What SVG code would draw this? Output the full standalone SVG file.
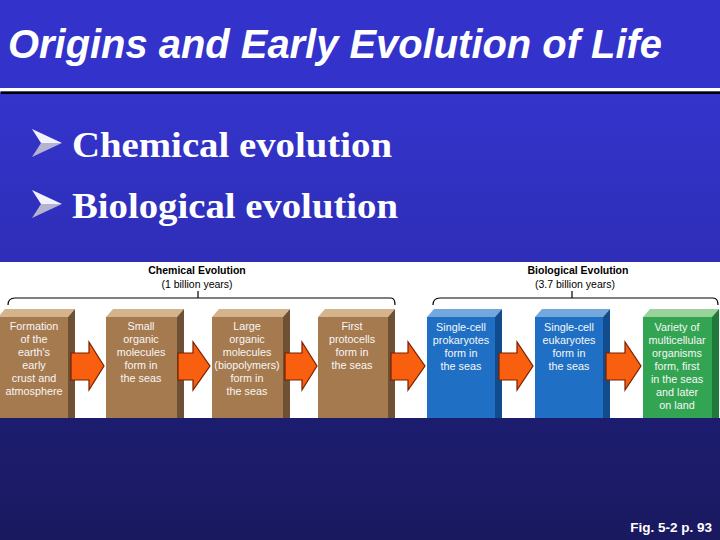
<svg xmlns="http://www.w3.org/2000/svg" width="720" height="540" viewBox="0 0 720 540">
<defs>
<linearGradient id="bg" x1="0" y1="94" x2="0" y2="540" gradientUnits="userSpaceOnUse">
<stop offset="0" stop-color="#3434cc"/>
<stop offset="0.37" stop-color="#2e2eb8"/>
<stop offset="0.72" stop-color="#1d1d70"/>
<stop offset="1" stop-color="#191960"/>
</linearGradient>
<style>
.title{font-family:"Liberation Sans",Arial,sans-serif;font-weight:bold;font-style:italic;font-size:41px;fill:#ffffff}
.bul{font-family:"Liberation Serif","Times New Roman",serif;font-weight:bold;font-size:35px;fill:#ffffff}
.hd{font-family:"Liberation Sans",Arial,sans-serif;font-weight:bold;font-size:10.5px;fill:#000;text-anchor:middle}
.sub{font-family:"Liberation Sans",Arial,sans-serif;font-size:10.5px;fill:#000;text-anchor:middle}
.bx{font-family:"Liberation Sans",Arial,sans-serif;font-size:10.8px;fill:#f6f6f6;text-anchor:middle}
.fig{font-family:"Liberation Sans",Arial,sans-serif;font-weight:bold;font-size:13.5px;fill:#ffffff;text-anchor:end}
.bf{fill:#a67a4f}.bt{fill:#d4b48c}.bs{fill:#6e5034}
.uf{fill:#1f70c4}.ut{fill:#74a8dc}.us{fill:#124c8c}
.gf{fill:#33a552}.gt{fill:#9ad29c}.gs{fill:#1f7a3a}
.arr{fill:#f8600f;stroke:#7a1e00;stroke-width:1.2;stroke-linejoin:miter}
.brk{fill:none;stroke:#000;stroke-width:1.2}
</style>
</defs>
<rect x="0" y="0" width="720" height="540" fill="url(#bg)"/>
<rect x="0" y="0" width="720" height="88" fill="#3333cc"/>
<rect x="0" y="88" width="720" height="3.5" fill="#ffffff"/>
<rect x="1" y="91.5" width="719" height="2.5" fill="#000000"/>
<text class="title" x="8" y="58" textLength="654" lengthAdjust="spacingAndGlyphs">Origins and Early Evolution of Life</text>

<g id="bullet1">
<polygon points="32,129 62,143 41,143" fill="#f2f2ff"/>
<polygon points="41,143 62,143 32,157" fill="#b4b4d2"/>
<text class="bul" x="72" y="157" textLength="320" lengthAdjust="spacingAndGlyphs">Chemical evolution</text>
</g>
<g id="bullet2">
<polygon points="32,190 62,204 41,204" fill="#f2f2ff"/>
<polygon points="41,204 62,204 32,218" fill="#b4b4d2"/>
<text class="bul" x="72" y="218" textLength="326" lengthAdjust="spacingAndGlyphs">Biological evolution</text>
</g>

<rect x="0" y="262" width="720" height="156" fill="#ffffff"/>

<g id="labels">
<text class="hd" x="197" y="274">Chemical Evolution</text>
<text class="sub" x="197" y="288">(1 billion years)</text>
<text class="hd" x="578" y="274">Biological Evolution</text>
<text class="sub" x="575" y="288">(3.7 billion years)</text>
</g>

<g id="connectors">
<path class="brk" d="M8,305 Q8,298 15,298 L391,298 Q395,298 395,305"/>
<line class="brk" x1="198" y1="291" x2="198" y2="298"/>
<path class="brk" d="M433,305 Q433,298 440,298 L713,298 Q718,298 718,305"/>
<line class="brk" x1="572" y1="291" x2="572" y2="298"/>
</g>

<g id="box1">
<polygon class="bt" points="-2,317 68,317 75,309 5,309"/>
<polygon class="bs" points="68,317 75,309 75,418 68,418"/>
<rect class="bf" x="-2" y="317" width="70" height="101"/>
<text class="bx"><tspan x="34" y="330">Formation</tspan><tspan x="34" y="343">of the</tspan><tspan x="34" y="356">earth's</tspan><tspan x="34" y="369">early</tspan><tspan x="34" y="382">crust and</tspan><tspan x="34" y="395">atmosphere</tspan></text>
</g>
<g id="box2">
<polygon class="bt" points="106,317 177,317 184,309 113,309"/>
<polygon class="bs" points="177,317 184,309 184,418 177,418"/>
<rect class="bf" x="106" y="317" width="71" height="101"/>
<text class="bx"><tspan x="141" y="330">Small</tspan><tspan x="141" y="343">organic</tspan><tspan x="141" y="356">molecules</tspan><tspan x="141" y="369">form in</tspan><tspan x="141" y="382">the seas</tspan></text>
</g>
<g id="box3">
<polygon class="bt" points="212,317 283,317 290,309 219,309"/>
<polygon class="bs" points="283,317 290,309 290,418 283,418"/>
<rect class="bf" x="212" y="317" width="71" height="101"/>
<text class="bx"><tspan x="247" y="330">Large</tspan><tspan x="247" y="343">organic</tspan><tspan x="247" y="356">molecules</tspan><tspan x="247" y="369">(biopolymers)</tspan><tspan x="247" y="382">form in</tspan><tspan x="247" y="395">the seas</tspan></text>
</g>
<g id="box4">
<polygon class="bt" points="318,317 388,317 395,309 325,309"/>
<polygon class="bs" points="388,317 395,309 395,418 388,418"/>
<rect class="bf" x="318" y="317" width="70" height="101"/>
<text class="bx"><tspan x="352" y="330">First</tspan><tspan x="352" y="343">protocells</tspan><tspan x="352" y="356">form in</tspan><tspan x="352" y="369">the seas</tspan></text>
</g>
<g id="box5">
<polygon class="ut" points="427,317 495,317 502,309 434,309"/>
<polygon class="us" points="495,317 502,309 502,418 495,418"/>
<rect class="uf" x="427" y="317" width="68" height="101"/>
<text class="bx"><tspan x="461" y="331">Single-cell</tspan><tspan x="461" y="344">prokaryotes</tspan><tspan x="461" y="357">form in</tspan><tspan x="461" y="370">the seas</tspan></text>
</g>
<g id="box6">
<polygon class="ut" points="535,317 603,317 610,309 542,309"/>
<polygon class="us" points="603,317 610,309 610,418 603,418"/>
<rect class="uf" x="535" y="317" width="68" height="101"/>
<text class="bx"><tspan x="569" y="331">Single-cell</tspan><tspan x="569" y="344">eukaryotes</tspan><tspan x="569" y="357">form in</tspan><tspan x="569" y="370">the seas</tspan></text>
</g>
<g id="box7">
<polygon class="gt" points="643,317 712,317 719,309 650,309"/>
<polygon class="gs" points="712,317 719,309 719,418 712,418"/>
<rect class="gf" x="643" y="317" width="69" height="101"/>
<text class="bx"><tspan x="677" y="331">Variety of</tspan><tspan x="677" y="344">multicellular</tspan><tspan x="677" y="357">organisms</tspan><tspan x="677" y="370">form, first</tspan><tspan x="677" y="383">in the seas</tspan><tspan x="677" y="396">and later</tspan><tspan x="677" y="409">on land</tspan></text>
</g>

<g id="arrows">
<polygon class="arr" points="71,353 89,353 89,342 104,366 89,390 89,380 71,380"/>
<polygon class="arr" points="178,353 193,353 193,342 210,366 193,390 193,380 178,380"/>
<polygon class="arr" points="285,353 302,353 302,342 317,366 302,390 302,380 285,380"/>
<polygon class="arr" points="391,353 408,353 408,342 425,366 408,390 408,380 391,380"/>
<polygon class="arr" points="499,353 517,353 517,342 533,366 517,390 517,380 499,380"/>
<polygon class="arr" points="606,353 625,353 625,342 641,366 625,390 625,380 606,380"/>
</g>

<text class="fig" x="712" y="532">Fig. 5-2 p. 93</text>
</svg>
